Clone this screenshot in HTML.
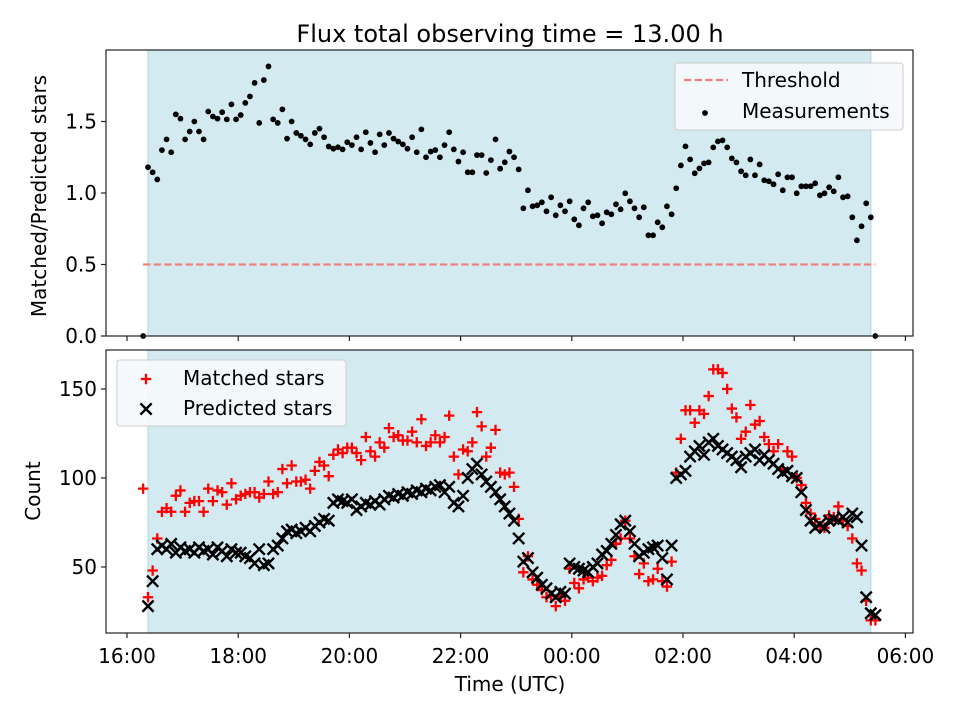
<!DOCTYPE html>
<html><head><meta charset="utf-8"><style>
body{margin:0;background:#fff;}
svg text{font-family:"DejaVu Sans","Liberation Sans",sans-serif;}
</style></head><body>
<svg id="chart" xmlns="http://www.w3.org/2000/svg" width="960" height="720" viewBox="0 0 960 720"></svg>
<script>
// ---- data ----
const startHour = 0.378;        // hours after 16:00 of first sample
const stepHour = 13/156;        // sample cadence (h)
const obsStart = 0.378, obsEnd = 13.378;
const threshold = 0.5;
const ratioValues = [1.18,1.145,1.095,1.30,1.375,1.285,1.55,1.52,1.375,1.43,1.50,1.43,1.375,1.57,1.535,1.52,1.565,1.515,1.62,1.515,1.545,1.63,1.675,1.77,1.49,1.79,1.885,1.515,1.49,1.585,1.38,1.50,1.42,1.40,1.375,1.34,1.42,1.45,1.39,1.325,1.31,1.32,1.305,1.355,1.335,1.39,1.305,1.425,1.35,1.285,1.41,1.335,1.42,1.38,1.36,1.34,1.31,1.39,1.285,1.445,1.25,1.29,1.30,1.25,1.335,1.425,1.305,1.22,1.285,1.145,1.145,1.265,1.265,1.14,1.23,1.375,1.17,1.215,1.29,1.25,1.165,
0.893,1.019,0.907,0.914,0.935,0.872,0.970,0.844,0.914,0.872,0.942,0.816,0.774,0.893,0.935,0.837,0.844,0.788,0.865,0.851,0.921,0.886,0.998,0.942,0.893,0.830,0.900,0.704,0.704,0.795,0.760,0.907,0.851,1.033,1.193,1.326,1.235,1.138,1.172,1.207,1.214,1.319,1.361,1.368,1.319,1.242,1.214,1.152,1.124,1.235,1.124,1.200,1.089,1.082,1.061,1.131,1.019,1.110,1.110,0.998,1.047,1.047,1.047,1.068,0.984,0.998,1.040,1.012,1.110,0.970,0.977,0.830,0.669,0.767,0.928,0.830];
const predictedValues = [28,42,60,62,60,63,58,61,59,60,58,61,59,60,57,61,59,56,60,58,58,56,55,52,60,51,52,60,62,66,70,71,69,70,72,70,73,75,77,76,86,88,87,86,88,82,84,86,85,87,85,88,90,89,91,90,92,91,93,92,94,93,95,96,92,95,86,84,90,100,105,108,102,98,95,92,88,84,80,76,66,53,55,47,44,40,38,35,33,36,35,52,50,49,48,47,50,52,57,59,63,68,74,76,70,63,56,58,60,61,62,55,43,62,100,102,104,112,115,118,113,120,122,118,116,114,112,110,106,112,114,116,110,113,110,108,105,103,104,101,100,92,82,76,72,74,72,76,77,76,78,75,80,78,62,33,24];
const matchedValues = [33,48,66,81,83,81,90,93,81,86,87,87,81,94,87,93,92,85,97,88,90,91,92,92,89,91,98,91,92,105,97,107,98,98,99,94,104,109,107,101,113,116,114,117,117,114,110,123,115,112,120,117,128,123,124,121,121,126,120,133,118,120,124,120,123,135,112,102,116,115,120,137,129,112,117,127,103,102,103,95,77,47,56,43,40,37,33,34,28,33,31,49,41,38,43,44,42,44,45,51,54,63,66,76,66,56,46,52,42,43,49,42,39,53,103,122,138,138,131,138,136,146,161,161,159,150,139,134,122,126,141,130,132,123,119,115,119,105,115,112,100,96,86,80,77,73,72,79,78,84,76,73,66,52,48,31,20];
const edgeRatioTimes = [0.29, 13.46];
const edgeRatioValues = [0, 0];
const extraMatchedTimes = [0.29, 13.46];
const extraMatchedValues = [94, 20];
const extraPredTimes = [13.46];
const extraPredValues = [23];
const xTickLabels = ["16:00","18:00","20:00","22:00","00:00","02:00","04:00","06:00"];
const xTickHours = [0,2,4,6,8,10,12,14];
const topTicks = [0.0,0.5,1.0,1.5];
const bottomTicks = [50,100,150];

// ---- scales ----
const L=106,R=913;
const x = h => 127 + h*55.6;
const topT=50,topB=336, yTop = v => 336 - v*143;
const botT=350,botB=633, yBot = v => 633 - (v-12.9)*1.78;
const NS="http://www.w3.org/2000/svg";
const svg=document.getElementById('chart');
function el(tag,attrs,parent){const e=document.createElementNS(NS,tag);for(const k in attrs)e.setAttribute(k,attrs[k]);(parent||svg).appendChild(e);return e;}
function txt(s,attrs,parent){const t=el('text',attrs,parent);t.textContent=s;return t;}
const times = ratioValues.map((_,i)=>startHour+i*stepHour);
const FS=20;

// title
const title=txt("Flux total observing time = 13.00 h",{x:510,y:42,'font-size':24,'text-anchor':'middle',fill:'#000'});



// ---- panels ----
function panel(name,T,B){
  const g=el('g',{});
  
  
  const sh=el('rect',{x:x(obsStart),y:T,width:x(obsEnd)-x(obsStart),height:B-T,fill:'#d4eaf1'},g);
  
  
  el('line',{x1:x(obsStart),x2:x(obsStart),y1:T,y2:B,stroke:'#b8dbe6','stroke-width':1.2},g);
  el('line',{x1:x(obsEnd),x2:x(obsEnd),y1:T,y2:B,stroke:'#b8dbe6','stroke-width':1.2},g);
  return g;
}
const gTop=panel('top-panel',topT,topB);
const gBot=panel('bottom-panel',botT,botB);

// threshold
const th=el('line',{x1:x(0.29),x2:x(13.46),y1:yTop(threshold),y2:yTop(threshold),stroke:'#f08080','stroke-width':2.2,'stroke-dasharray':'7.4,3.2'},gTop);



// ratio dots
function dot(h,v){
  const c=el('circle',{cx:x(h),cy:yTop(v),r:2.9,fill:'#000'},gTop);
  
  
}
ratioValues.forEach((v,i)=>dot(times[i],v));
edgeRatioValues.forEach((v,i)=>dot(edgeRatioTimes[i],v));

// bottom markers
function plus(cx,cy,g){
  return el('path',{d:`M${cx-5.2},${cy}H${cx+5.2}M${cx},${cy-5.2}V${cy+5.2}`,stroke:'#ff0000','stroke-width':2.3,fill:'none'},g);
}
function cross(cx,cy,g){
  return el('path',{d:`M${cx-5.6},${cy-5.6}L${cx+5.6},${cy+5.6}M${cx-5.6},${cy+5.6}L${cx+5.6},${cy-5.6}`,stroke:'#000','stroke-width':2.4,fill:'none'},g);
}
function addMatched(h,v){const p=plus(x(h),yBot(v),gBot);
  
  }
function addPred(h,v){const p=cross(x(h),yBot(v),gBot);
  
  }
matchedValues.forEach((v,i)=>addMatched(times[i],v));
extraMatchedValues.forEach((v,i)=>addMatched(extraMatchedTimes[i],v));
predictedValues.forEach((v,i)=>addPred(times[i],v));
extraPredValues.forEach((v,i)=>addPred(extraPredTimes[i],v));

// ---- axes ----
function frame(T,B,name){
  const r=el('rect',{x:L,y:T,width:R-L,height:B-T,fill:'none',stroke:'#222','stroke-width':1.2});
  
  
}
frame(topT,topB,'top-axes-frame');
frame(botT,botB,'bottom-axes-frame');
xTickHours.forEach((h,i)=>{
  el('line',{x1:x(h),x2:x(h),y1:topB,y2:topB+5,stroke:'#222','stroke-width':1.2});
  el('line',{x1:x(h),x2:x(h),y1:botB,y2:botB+5,stroke:'#222','stroke-width':1.2});
  const t=txt(xTickLabels[i],{x:x(h),y:663,'font-size':FS,'text-anchor':'middle',fill:'#000'});
  
  
});
topTicks.forEach(v=>{
  el('line',{x1:L-5,x2:L,y1:yTop(v),y2:yTop(v),stroke:'#222','stroke-width':1.2});
  const t=txt(v.toFixed(1),{x:L-9,y:yTop(v)+7,'font-size':FS,'text-anchor':'end',fill:'#000'});
  
  
});
bottomTicks.forEach(v=>{
  el('line',{x1:L-5,x2:L,y1:yBot(v),y2:yBot(v),stroke:'#222','stroke-width':1.2});
  const t=txt(String(v),{x:L-9,y:yBot(v)+7,'font-size':FS,'text-anchor':'end',fill:'#000'});
  
  
});
const xl=txt("Time (UTC)",{x:510,y:691,'font-size':FS,'text-anchor':'middle',fill:'#000'});


const yl1=txt("Matched/Predicted stars",{x:0,y:0,'font-size':FS,'text-anchor':'middle',fill:'#000',transform:'translate(46,196) rotate(-90)'});


const yl2=txt("Count",{x:0,y:0,'font-size':FS,'text-anchor':'middle',fill:'#000',transform:'translate(40,491) rotate(-90)'});



// ---- legends ----
const lg1=el('g',{});


el('rect',{x:675,y:63,width:228,height:67,rx:3,fill:'#f6fafc','fill-opacity':0.9,stroke:'#ccc'},lg1);
el('line',{x1:684,x2:728,y1:80,y2:80,stroke:'#f08080','stroke-width':2.2,'stroke-dasharray':'7.4,3.2'},lg1);
const lt1=txt("Threshold",{x:742,y:87,'font-size':FS,fill:'#000'},lg1);


el('circle',{cx:705,cy:113,r:2.9,fill:'#000'},lg1);
const lt2=txt("Measurements",{x:742,y:118,'font-size':FS,fill:'#000'},lg1);



const lg2=el('g',{});


el('rect',{x:117,y:360,width:229,height:66,rx:3,fill:'#f6fafc','fill-opacity':0.9,stroke:'#ccc'},lg2);
plus(146,379,lg2);
const lt3=txt("Matched stars",{x:183,y:385,'font-size':FS,fill:'#000'},lg2);


cross(146,409,lg2);
const lt4=txt("Predicted stars",{x:183,y:415,'font-size':FS,fill:'#000'},lg2);


</script>
</body></html>
